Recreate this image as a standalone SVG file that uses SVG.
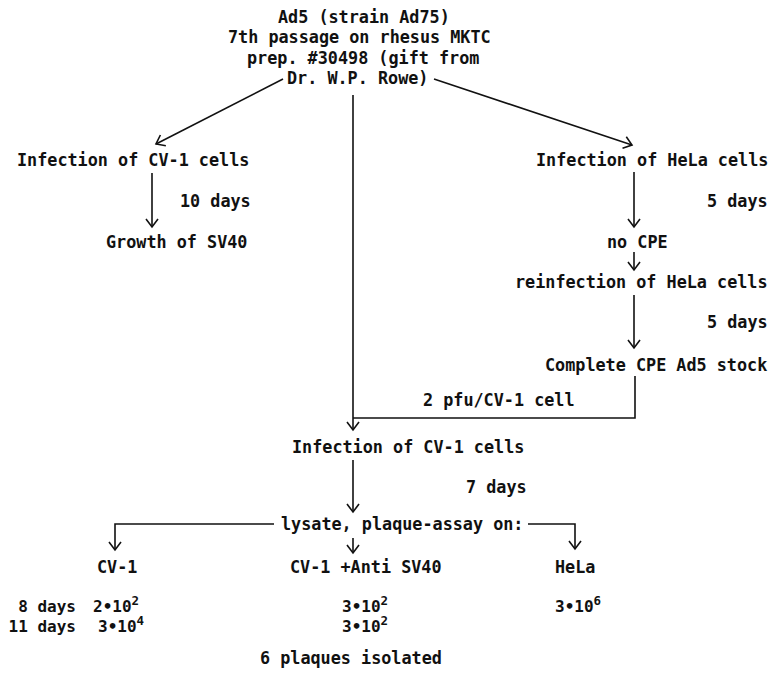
<svg xmlns="http://www.w3.org/2000/svg" width="770" height="680" viewBox="0 0 770 680">
<defs>
<style>
text{font-family:"DejaVu Sans Mono","Liberation Mono",monospace;font-size:16.8px;font-weight:bold;fill:#111}
.r{font-size:16px}
.sup{font-size:12.5px}
.c{fill:none;stroke:#111;stroke-width:1.6}
</style>
<marker id="arr" markerUnits="userSpaceOnUse" markerWidth="20" markerHeight="20" viewBox="-10 -10 20 20" refX="0" refY="0" orient="auto" overflow="visible">
<path d="M-8,-6 L0,0 L-8,6" fill="none" stroke="#111" stroke-width="1.6"/>
</marker>
</defs>
<rect width="770" height="680" fill="#fff"/>
<g id="connectors">
<line class="c" x1="283" y1="79" x2="156" y2="144" marker-end="url(#arr)"/>
<line class="c" x1="434" y1="79" x2="632" y2="145" marker-end="url(#arr)"/>
<line class="c" x1="353" y1="95" x2="353" y2="430" marker-end="url(#arr)"/>
<polyline class="c" points="635,376 635,418 353,418"/>
<line class="c" x1="152" y1="173" x2="152" y2="227" marker-end="url(#arr)"/>
<line class="c" x1="634" y1="172" x2="634" y2="227" marker-end="url(#arr)"/>
<line class="c" x1="634" y1="252" x2="634" y2="270" marker-end="url(#arr)"/>
<line class="c" x1="634" y1="295" x2="634" y2="348" marker-end="url(#arr)"/>
<line class="c" x1="353" y1="460" x2="353" y2="512" marker-end="url(#arr)"/>
<polyline class="c" points="274,524 115,524 115,550" marker-end="url(#arr)"/>
<polyline class="c" points="528,524 575,524 575,549" marker-end="url(#arr)"/>
<line class="c" x1="353" y1="538" x2="353" y2="553" marker-end="url(#arr)"/>
</g>
<g id="source">
<text x="278" y="23">Ad5 (strain Ad75)</text>
<text x="228" y="43">7th passage on rhesus MKTC</text>
<text x="247" y="64">prep. #30498 (gift from</text>
<text x="287" y="84">Dr. W.P. Rowe)</text>
</g>
<g id="cv1-infection-left"><text x="17" y="166">Infection of CV-1 cells</text></g>
<g id="label-10days"><text x="180" y="207">10 days</text></g>
<g id="growth-sv40"><text x="106" y="248">Growth of SV40</text></g>
<g id="hela-infection"><text x="536" y="166">Infection of HeLa cells</text></g>
<g id="label-5days-1"><text x="707" y="207">5 days</text></g>
<g id="no-cpe"><text x="607" y="248">no CPE</text></g>
<g id="hela-reinfection"><text x="515" y="288">reinfection of HeLa cells</text></g>
<g id="label-5days-2"><text x="707" y="328">5 days</text></g>
<g id="cpe-stock"><text x="545" y="371">Complete CPE Ad5 stock</text></g>
<g id="label-pfu"><text x="423" y="406">2 pfu/CV-1 cell</text></g>
<g id="cv1-infection-mid"><text x="292" y="453">Infection of CV-1 cells</text></g>
<g id="label-7days"><text x="466" y="493">7 days</text></g>
<g id="lysate"><text x="281" y="530">lysate, plaque-assay on:</text></g>
<g id="assay-cv1"><text x="97" y="573">CV-1</text></g>
<g id="assay-cv1-anti"><text x="290" y="573">CV-1 +Anti SV40</text></g>
<g id="assay-hela"><text x="555" y="573">HeLa</text></g>
<g id="results">
<text class="r" x="76" y="612" text-anchor="end">8 days</text>
<text class="r" x="76" y="632" text-anchor="end">11 days</text>
<text class="r" x="93" y="612">2•10<tspan class="sup" dy="-7">2</tspan></text>
<text class="r" x="98" y="632">3•10<tspan class="sup" dy="-7">4</tspan></text>
<text class="r" x="342" y="612">3•10<tspan class="sup" dy="-7">2</tspan></text>
<text class="r" x="342" y="632">3•10<tspan class="sup" dy="-7">2</tspan></text>
<text class="r" x="555" y="612">3•10<tspan class="sup" dy="-7">6</tspan></text>
</g>
<g id="isolated"><text x="260" y="664">6 plaques isolated</text></g>
</svg>
